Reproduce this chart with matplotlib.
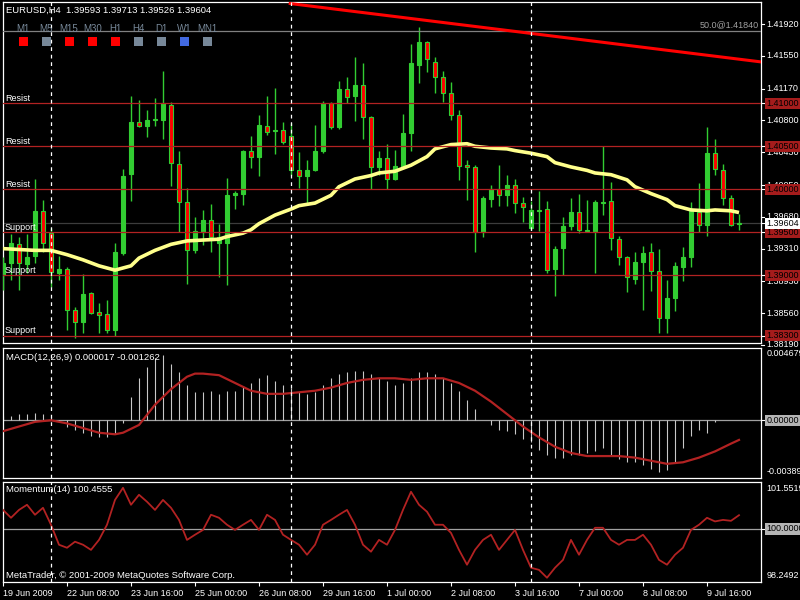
import matplotlib.pyplot as plt
from matplotlib.patches import Rectangle

plt.rcParams['font.family'] = ['Liberation Sans', 'DejaVu Sans']
FS = 6.5

# H4 candles, EURUSD 19 Jun - 10 Jul 2009
opens = [1.3900, 1.3914, 1.3936, 1.3913, 1.3922, 1.3975, 1.3949, 1.3903, 1.3907, 1.3860,
         1.3846, 1.3879, 1.3857, 1.3855, 1.3836, 1.3926, 1.4018, 1.4078, 1.4074, 1.4080,
         1.4081, 1.4098, 1.4030, 1.3985, 1.3930, 1.3950, 1.3964, 1.3938, 1.3938, 1.3993,
         1.3995, 1.4045, 1.4037, 1.4074, 1.4068, 1.4069, 1.4062, 1.4022, 1.4016, 1.4022,
         1.4044, 1.4100, 1.4072, 1.4117, 1.4108, 1.4121, 1.4084, 1.4026, 1.4036, 1.4012,
         1.4026, 1.4065, 1.4144, 1.4171, 1.4148, 1.4131, 1.4112, 1.4086, 1.4028, 1.4026,
         1.3950, 1.3989, 1.4000, 1.3993, 1.4005, 1.3984, 1.3955, 1.3975, 1.3977, 1.3907,
         1.3932, 1.3957, 1.3974, 1.3952, 1.3952, 1.3984, 1.3986, 1.3942, 1.3921, 1.3896,
         1.3915, 1.3927, 1.3905, 1.3850, 1.3874, 1.3910, 1.3921, 1.3974, 1.3959, 1.4042,
         1.4023, 1.3990, 1.39593]
highs = [1.3921, 1.3948, 1.3945, 1.3948, 1.4012, 1.3988, 1.3955, 1.3922, 1.3910, 1.3863,
         1.3902, 1.3881, 1.3868, 1.3871, 1.3938, 1.4024, 1.4108, 1.4104, 1.4092, 1.4106,
         1.4138, 1.4102, 1.4045, 1.4001, 1.3968, 1.3976, 1.3983, 1.3960, 1.4013, 1.3998,
         1.4046, 1.4062, 1.4086, 1.4109, 1.4118, 1.4078, 1.4077, 1.4043, 1.4034, 1.4075,
         1.4103, 1.4102, 1.4126, 1.4130, 1.4154, 1.4147, 1.4085, 1.4045, 1.4053, 1.4046,
         1.4088, 1.4169, 1.4189, 1.4172, 1.4154, 1.4138, 1.4125, 1.4092, 1.4034, 1.4028,
         1.3992, 1.4005, 1.4028, 1.4017, 1.4012, 1.3991, 1.3986, 1.3998, 1.3986, 1.3934,
         1.3968, 1.3990, 1.3995, 1.3988, 1.3988, 1.4050, 1.4008, 1.3946, 1.3922, 1.3927,
         1.3934, 1.3938, 1.3931, 1.3895, 1.3915, 1.3933, 1.3985, 1.4007, 1.4072, 1.4059,
         1.4030, 1.3993, 1.39713]
lows = [1.3883, 1.3894, 1.3883, 1.3903, 1.3914, 1.3927, 1.3886, 1.3895, 1.3836, 1.3827,
        1.3833, 1.3855, 1.3833, 1.3833, 1.3829, 1.3924, 1.3986, 1.4073, 1.4061, 1.4074,
        1.4058, 1.4004, 1.3950, 1.3890, 1.3926, 1.3935, 1.3927, 1.3898, 1.3889, 1.3977,
        1.3982, 1.4025, 1.4015, 1.4063, 1.4041, 1.4053, 1.4017, 1.4002, 1.3984, 1.4021,
        1.4042, 1.4070, 1.4070, 1.4100, 1.4079, 1.4058, 1.4000, 1.4017, 1.4000, 1.4011,
        1.4025, 1.4045, 1.4124, 1.4136, 1.4112, 1.4101, 1.4081, 1.4011, 1.3988, 1.3927,
        1.3944, 1.3979, 1.3981, 1.3981, 1.3973, 1.3962, 1.3953, 1.3952, 1.3903, 1.3876,
        1.3900, 1.3953, 1.3949, 1.3951, 1.3903, 1.3970, 1.3929, 1.3912, 1.3881, 1.3890,
        1.3860, 1.3882, 1.3833, 1.3833, 1.3859, 1.3893, 1.3910, 1.3950, 1.3946, 1.4017,
        1.3982, 1.3957, 1.39526]
closes = [1.3914, 1.3938, 1.3914, 1.3921, 1.3975, 1.3938, 1.3904, 1.3907, 1.3860, 1.3846,
          1.3878, 1.3856, 1.3854, 1.3836, 1.3927, 1.4015, 1.4078, 1.4074, 1.4081, 1.4082,
          1.4100, 1.4031, 1.3985, 1.3930, 1.3951, 1.3964, 1.3944, 1.3944, 1.3993, 1.3996,
          1.4045, 1.4037, 1.4075, 1.4067, 1.4069, 1.4055, 1.4022, 1.4016, 1.4022, 1.4045,
          1.4100, 1.4072, 1.4117, 1.4107, 1.4121, 1.4084, 1.4026, 1.4036, 1.4012, 1.4027,
          1.4065, 1.4147, 1.4171, 1.4152, 1.4131, 1.4112, 1.4086, 1.4027, 1.4026, 1.3950,
          1.3990, 1.4000, 1.3993, 1.4005, 1.3984, 1.3980, 1.3976, 1.3976, 1.3906, 1.3931,
          1.3957, 1.3974, 1.3953, 1.3953, 1.3985, 1.3985, 1.3943, 1.3921, 1.3898, 1.3916,
          1.3926, 1.3905, 1.3850, 1.3874, 1.3911, 1.3921, 1.3975, 1.3958, 1.4042, 1.4024,
          1.3990, 1.3959, 1.39604]

# moving average (yellow) read at selected bars
ma_idx = [0, 4, 6, 8, 10, 12, 14, 16, 17, 19, 21, 23, 25, 27, 28, 30, 31, 32, 34, 36,
          37, 39, 41, 42, 44, 46, 47, 49, 51, 53, 54, 56, 58, 59, 61, 63, 64, 66, 68, 69,
          71, 73, 74, 76, 78, 79, 81, 83, 84, 86, 88, 89, 91, 92]
ma_val = [1.3931, 1.3929, 1.3929, 1.3924, 1.3918, 1.3911, 1.3906, 1.3911, 1.3920, 1.3929,
          1.3936, 1.3940, 1.3941, 1.3942, 1.3945, 1.3949, 1.3953, 1.3960, 1.3970, 1.3977,
          1.3981, 1.3984, 1.3993, 1.4003, 1.4012, 1.4016, 1.4019, 1.4021, 1.4028, 1.4038,
          1.4047, 1.4052, 1.4053, 1.4050, 1.4048, 1.4047, 1.4045, 1.4042, 1.4038, 1.4031,
          1.4026, 1.4022, 1.4019, 1.4017, 1.4011, 1.4003, 1.3995, 1.3988, 1.3981, 1.3976,
          1.3975, 1.3976, 1.3975, 1.3973]

# MACD(12,26,9)
macd_hist = [0.0003, 0.0003, 0.0004, 0.0004, 0.0005, 0.0004, 0.0002, -0.0001, -0.0004, -0.0006,
             -0.0008, -0.0010, -0.0011, -0.0011, -0.0009, -0.0002, 0.0015, 0.0027, 0.0034, 0.0040,
             0.0042, 0.0036, 0.0031, 0.0023, 0.0018, 0.0018, 0.0019, 0.0017, 0.0019, 0.0019,
             0.0022, 0.0024, 0.0027, 0.0029, 0.0025, 0.0023, 0.0021, 0.0018, 0.0017, 0.0018,
             0.0023, 0.0027, 0.0030, 0.0031, 0.0032, 0.0032, 0.0030, 0.0027, 0.0025, 0.0023,
             0.0024, 0.0027, 0.0031, 0.0031, 0.0030, 0.0027, 0.0024, 0.0019, 0.0013, 0.0007,
             0.0000, -0.0003, -0.0006, -0.0007, -0.0009, -0.0012, -0.0014, -0.0019, -0.0022, -0.0024,
             -0.0024, -0.0022, -0.0022, -0.0021, -0.0020, -0.0018, -0.0022, -0.0025, -0.0027, -0.0027,
             -0.0029, -0.0031, -0.0033, -0.0032, -0.0027, -0.0018, -0.0010, -0.0006, -0.0008, -0.0001,
             0.0000, 0.0000, 0.000017]
sig_idx = [0, 2, 4, 6, 8, 10, 12, 14, 15, 17, 19, 21, 23, 24, 25, 27, 29, 31, 33, 35, 37, 39,
           41, 43, 45, 47, 49, 51, 53, 55, 57, 59, 61, 63, 65, 67, 69, 71, 73, 75, 77, 79,
           81, 83, 85, 87, 89, 91, 92]
sig_val = [-0.0007, -0.0004, -0.0001, 0.0000, -0.0002, -0.0005, -0.0008, -0.0009, -0.0008,
           -0.0003, 0.0010, 0.0020, 0.0028, 0.0030, 0.0030, 0.0029, 0.0024, 0.0019, 0.0017,
           0.0017, 0.0018, 0.0019, 0.0021, 0.0024, 0.0026, 0.0027, 0.0027, 0.0026, 0.0027,
           0.0027, 0.0024, 0.0019, 0.0012, 0.0004, -0.0004, -0.0011, -0.0017, -0.0021, -0.0023,
           -0.0023, -0.0023, -0.0024, -0.0026, -0.0028, -0.0027, -0.0024, -0.0020, -0.0015,
           -0.001262]

# Momentum(14)
momentum = [100.63, 100.37, 100.63, 100.80, 100.47, 100.70, 100.14, 99.48, 99.38, 99.58,
            99.48, 99.31, 99.64, 100.14, 100.96, 101.36, 100.80, 101.13, 100.90, 100.63,
            100.96, 100.70, 100.30, 99.64, 99.81, 99.97, 100.47, 100.37, 100.14, 99.97,
            100.14, 100.30, 99.97, 100.47, 100.30, 99.81, 99.64, 99.48, 99.15, 99.48,
            100.14, 100.30, 100.47, 100.63, 100.14, 99.48, 99.25, 99.64, 99.48, 99.97,
            100.63, 101.23, 100.80, 100.57, 100.14, 100.14, 99.87, 99.31, 98.82, 99.31,
            99.64, 99.81, 99.31, 99.64, 99.97, 99.31, 98.72, 98.65, 98.39, 98.72,
            98.98, 99.64, 99.15, 99.64, 100.04, 100.04, 99.64, 99.48, 99.64, 99.64,
            99.81, 99.48, 98.98, 98.82, 99.15, 99.38, 99.97, 100.14, 100.37, 100.25,
            100.30, 100.27, 100.4555]

time_idx = [0, 8, 16, 24, 32, 40, 48, 56, 64, 72, 80, 88]
time_labels = ['19 Jun 2009', '22 Jun 08:00', '23 Jun 16:00', '25 Jun 00:00', '26 Jun 08:00',
               '29 Jun 16:00', '1 Jul 00:00', '2 Jul 08:00', '3 Jul 16:00', '7 Jul 00:00',
               '8 Jul 08:00', '9 Jul 16:00']
price_ticks = [1.41920, 1.41550, 1.41170, 1.40800, 1.40430, 1.40050, 1.39680, 1.39310,
               1.38930, 1.38560, 1.38190]
resist = [1.41000, 1.40500, 1.40000]
support = [1.39500, 1.39000, 1.38300]
bid = 1.39604
fib_level = 1.41840
trend_idx = [35.9, 94.6]
trend_val = [1.42160, 1.41483]
separators = [6, 36, 66]
tf_names = ['M1', 'M5', 'M15', 'M30', 'H1', 'H4', 'D1', 'W1', 'MN1']
tf_colors = ['#FF0000', '#778899', '#FF0000', '#FF0000', '#FF0000', '#778899', '#778899',
             '#4169E1', '#778899']

GREEN = '#32CD32'
LINE_RED = '#B22222'
W, H = 800, 600

fig = plt.figure(figsize=(8, 6), dpi=100, facecolor='black')


def panel(top, bottom):
    a = fig.add_axes([2.5 / W, 1 - bottom / H, 758 / W, (bottom - top) / H])
    a.set_facecolor('black')
    for s in a.spines.values():
        s.set_color('white')
        s.set_linewidth(0.9)
    a.set_xlim(-0.0625, 94.6875)
    a.set_xticks([])
    a.set_yticks([])
    return a


def right_text(a, y, s, box=None, tc='white', va='center', trans=None):
    t = trans if trans is not None else a.get_yaxis_transform()
    kw = {}
    if box:
        kw['bbox'] = dict(boxstyle='square,pad=0.12', facecolor=box, edgecolor='none')
    a.text(1.0075, y, s, transform=t, ha='left', va=va, color=tc, fontsize=FS,
           clip_on=False, zorder=10 if box else 9, **kw)
    if va == 'center':
        a.plot([1.0, 1.004], [y, y], transform=t, color='white', lw=0.8, clip_on=False)


ax = panel(2, 343)
ax_macd = panel(347.5, 478)
ax_mom = panel(482, 582)

# main chart
ax.set_ylim(1.382128, 1.421779)
n = range(len(opens))
ax.vlines(n, lows, highs, color=GREEN, lw=1.0, zorder=3)
bottoms = [min(o, c) for o, c in zip(opens, closes)]
heights = [max(abs(c - o), 0.00004) for o, c in zip(opens, closes)]
fills = [GREEN if c >= o else '#FF0000' for o, c in zip(opens, closes)]
ax.bar(n, heights, bottom=bottoms, width=0.62, color=fills, edgecolor=GREEN,
       linewidth=0.8, zorder=4)
ax.plot(ma_idx, ma_val, color='#FFFF8C', lw=2.6, zorder=5, solid_capstyle='butt')

ax.axhline(bid, color='#3C3C3C', lw=0.9, zorder=1)
for p in resist + support:
    ax.axhline(p, color=LINE_RED, lw=0.9, zorder=6)
for p in resist:
    ax.text(0.003, p + 0.00008, 'Resist', transform=ax.get_yaxis_transform(), color='white',
            fontsize=FS, va='bottom', ha='left', zorder=8)
for p in support:
    ax.text(0.003, p + 0.00008, 'Support', transform=ax.get_yaxis_transform(), color='white',
            fontsize=FS, va='bottom', ha='left', zorder=8)
ax.axhline(fib_level, color='#808080', lw=0.9, zorder=6)
ax.text(0.998, fib_level + 0.0002, '50.0@1.41840', transform=ax.get_yaxis_transform(),
        color='#A0A0A0', fontsize=FS, ha='right', va='bottom', zorder=8)
ax.plot(trend_idx, trend_val, color='#FF0000', lw=2.2, zorder=7, clip_on=True)

for p in price_ticks:
    right_text(ax, p, '%.5f' % p)
for p in resist + support:
    right_text(ax, p, '%.5f' % p, box='#A51C1C', tc='black')
right_text(ax, bid, '%.5f' % bid, box='white', tc='black')

# MACD panel
ax_macd.set_ylim(-0.00371, 0.004679)
ax_macd.axhline(0, color='#A0A0A0', lw=0.9, zorder=1)
ax_macd.vlines(n, 0, macd_hist, color='#C8C8C8', lw=0.8, zorder=2)
ax_macd.plot(sig_idx, sig_val, color=LINE_RED, lw=1.6, zorder=3)
right_text(ax_macd, 0.0, '0.00000', box='#B4B4B4', tc='black')
right_text(ax_macd, 0.985, '0.004679', va='top', trans=ax_macd.transAxes)
right_text(ax_macd, 0.015, '-0.00389', va='bottom', trans=ax_macd.transAxes)

# Momentum panel
ax_mom.set_ylim(98.2492, 101.5519)
ax_mom.axhline(100, color='#A0A0A0', lw=0.9, zorder=1)
ax_mom.plot(n, momentum, color=LINE_RED, lw=1.3, zorder=3)
right_text(ax_mom, 100.0, '100.0000', box='#B4B4B4', tc='black')
right_text(ax_mom, 0.98, '101.5519', va='top', trans=ax_mom.transAxes)
right_text(ax_mom, 0.02, '98.2492', va='bottom', trans=ax_mom.transAxes)

ax_mom.set_xticks(time_idx)
ax_mom.set_xticklabels(time_labels, ha='left')
ax_mom.tick_params(axis='x', colors='white', direction='out', length=3, width=0.8,
                   pad=2, labelsize=FS)

for a in (ax, ax_macd, ax_mom):
    for s in separators:
        a.axvline(s, color='white', lw=0.9, linestyle=(0, (3, 3)), zorder=8)

# texts
fig.text(6.5 / W, 1 - 10.5 / H, 'EURUSD,H4  1.39593 1.39713 1.39526 1.39604',
         color='white', fontsize=6.8, va='center', ha='left')
fig.text(6.5 / W, 1 - 358 / H, 'MACD(12,26,9) 0.000017 -0.001262',
         color='white', fontsize=6.8, va='center', ha='left')
fig.text(6.5 / W, 1 - 490 / H, 'Momentum(14) 100.4555',
         color='white', fontsize=6.8, va='center', ha='left')
fig.text(5.5 / W, 1 - 575 / H, 'MetaTrader, \u00a9 2001-2009 MetaQuotes Software Corp.',
         color='white', fontsize=6.8, va='center', ha='left')

for i, (name, col) in enumerate(zip(tf_names, tf_colors)):
    cx = 23 + 23.05 * i
    fig.text(cx / W, 1 - 29.5 / H, name, color='#778899', fontsize=7,
             ha='center', va='center')
    fig.patches.append(Rectangle(((cx - 4.5) / W, 1 - 46 / H), 9 / W, 9 / H,
                                 transform=fig.transFigure, facecolor=col,
                                 edgecolor='none', zorder=5))

fig.savefig('out.png', dpi=100, facecolor='black')
